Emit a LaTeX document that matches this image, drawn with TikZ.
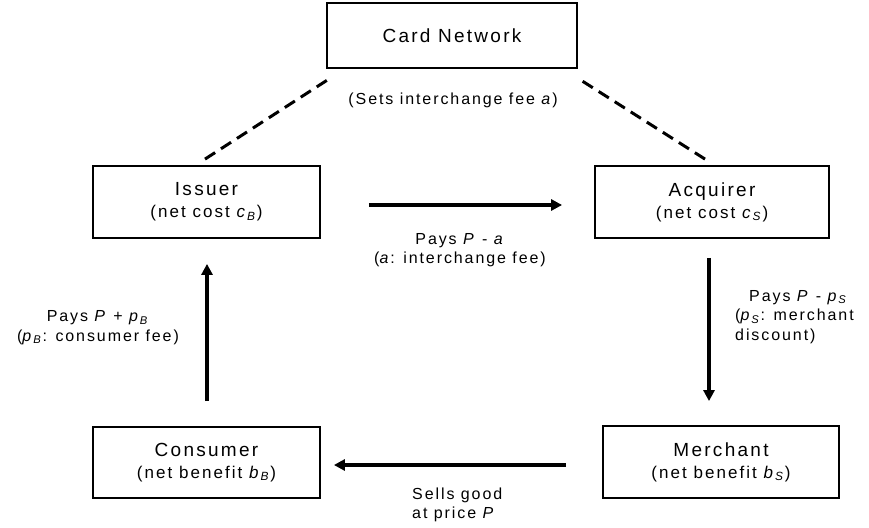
\documentclass[tikz,border=0pt]{standalone}
\usepackage{fontspec}
\setmainfont{Liberation Sans}[LetterSpace=12]
\usetikzlibrary{arrows.meta,calc}
\newcommand{\mysub}[1]{\textsubscript{\textit{#1}}}
\begin{document}
\begin{tikzpicture}[x=1pt,y=-1pt,
  box/.style={draw,line width=1.8pt,inner sep=0pt,align=center,font=\fontsize{19}{22}\selectfont},
  subl/.style={font=\fontsize{17}{22}\selectfont},
  lbl/.style={font=\fontsize{16}{19.5}\selectfont,inner sep=0pt},
  arr/.style={line width=3.5pt,-{Triangle[length=11pt,width=11pt]}},
  dsh/.style={line width=3pt,dash pattern=on 12pt off 7pt}]
\useasboundingbox (0,0) rectangle (869,527);
\node[box,minimum width=250pt,minimum height=65pt] (net) at (452,35.5) {Card Network};
\node[box,minimum width=227pt,minimum height=72pt] (iss) at (206.5,202) {Issuer\\{\fontsize{17}{22}\selectfont (net cost \textit{c}\mysub{B})}};
\node[box,minimum width=234pt,minimum height=72pt] (acq) at (712,202) {Acquirer\\{\fontsize{17}{22}\selectfont (net cost \textit{c}\mysub{S})}};
\node[box,minimum width=227pt,minimum height=71pt] (con) at (206.5,462.5) {Consumer\\{\fontsize{17}{22}\selectfont (net benefit \textit{b}\mysub{B})}};
\node[box,minimum width=236pt,minimum height=72pt] (mer) at (721,462) {Merchant\\{\fontsize{17}{22}\selectfont (net benefit \textit{b}\mysub{S})}};
\coordinate (rx) at (709,0);
\coordinate (lx) at (207,0);
\coordinate (by) at (0,465);
% dashed links
\draw[dsh] ([xshift=-1.5pt,yshift=6pt]iss.north) -- ([xshift=3pt,yshift=-10pt]net.south west);
\draw[dsh] ([xshift=-7pt,yshift=6pt]acq.north) -- ([xshift=1pt,yshift=-10pt]net.south east);
% arrows
\draw[arr,shorten <=48pt,shorten >=32pt] ([yshift=-3pt]iss.east) -- ([yshift=-3pt]acq.west);
\draw[arr,shorten <=19pt,shorten >=24pt] (acq.south -| rx) -- (mer.north -| rx);
\draw[arr,shorten <=36pt,shorten >=13pt] (mer.west |- by) -- (con.east |- by);
\draw[arr,shorten <=25pt,shorten >=25pt] (con.north -| lx) -- (iss.south -| lx);
% labels
\node[lbl] (lset) at (453,100) {(Sets interchange fee \textit{a})};
\node[lbl,align=center] (ltop) at (460,250) {Pays \textit{P} - \textit{a}\\(\textit{a}: interchange fee)};
\node[lbl,align=left,anchor=west] (lright) at (735,317) {\hspace{14pt}Pays \textit{P} - \textit{p}\mysub{S}\\(\textit{p}\mysub{S}: merchant\\discount)};
\node[lbl,align=center] (lleft) at (98,327.5) {Pays \textit{P} + \textit{p}\mysub{B}\\(\textit{p}\mysub{B}: consumer fee)};
\node[lbl,align=left,anchor=west] (lbot) at (412,505) {Sells good\\at price \textit{P}};
\end{tikzpicture}
\end{document}
